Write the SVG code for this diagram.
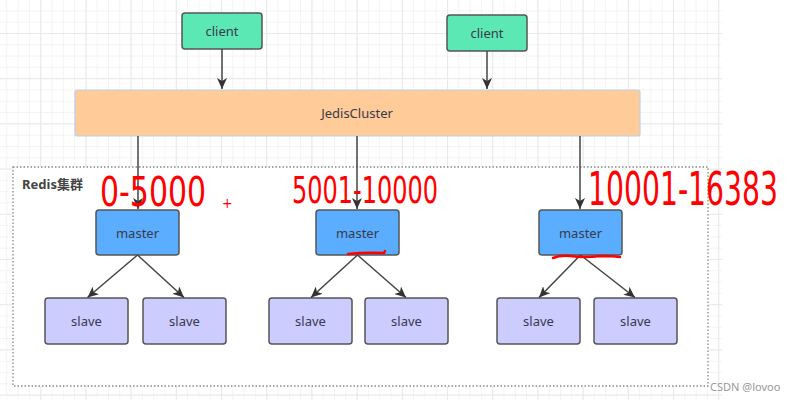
<svg xmlns="http://www.w3.org/2000/svg" width="791" height="400" viewBox="0 0 791 400">
<defs>
<pattern id="minor" patternUnits="userSpaceOnUse" x="40.2" y="33" width="11.3" height="11.3">
<path d="M0 0.5H11.3M0.5 0V11.3" fill="none" stroke="#f3f3f3" stroke-width="1"/>
</pattern>
<pattern id="major" patternUnits="userSpaceOnUse" x="40.2" y="33" width="45.2" height="45.2">
<path d="M0 0.5H45.2M0.5 0V45.2" fill="none" stroke="#e9e9e9" stroke-width="1.2"/>
</pattern>
<marker id="arr" markerUnits="userSpaceOnUse" markerWidth="12" markerHeight="10" refX="11" refY="5" orient="auto">
<path d="M0 0L11 5L0 10L3 5Z" fill="#333"/>
</marker>
</defs>
<style>
.node{stroke:#555;stroke-width:1.5}
.client{fill:#5ce8b5}
.master{fill:#5badff}
.slave{fill:#ccccff}
.lbl{font-family:"Noto Sans","Open Sans","Noto Sans CJK SC",sans-serif;font-size:13px;fill:#3a3a4a;text-anchor:middle;dominant-baseline:central}
.conn{stroke:#444;stroke-width:1.5;fill:none;marker-end:url(#arr)}
.hand{font-family:"DejaVu Sans Condensed","DejaVu Sans",sans-serif;font-weight:300;fill:#ff0000}
.ul{stroke:#ff0000;stroke-width:2.5;fill:none;stroke-linecap:round}
</style>
<rect width="791" height="400" fill="#ffffff"/>
<rect x="0" y="0" width="722" height="400" fill="url(#minor)"/>
<rect x="0" y="0" width="722" height="400" fill="url(#major)"/>

<g id="redis-cluster">
<rect x="13" y="167" width="695" height="219" fill="#ffffff" stroke="#888" stroke-width="1.3" stroke-dasharray="1.5 2"/>
<text x="22" y="184" font-family="'Noto Sans','Noto Sans CJK SC',sans-serif" font-size="13" font-weight="bold" fill="#444" dominant-baseline="central">Redis集群</text>
</g>

<g id="client1"><rect class="node client" x="182" y="13" width="80" height="36" rx="3"/><text class="lbl" x="222" y="31">client</text></g>
<g id="client2"><rect class="node client" x="447" y="15" width="80" height="36" rx="3"/><text class="lbl" x="487" y="33">client</text></g>

<g id="jediscluster"><rect x="75" y="90" width="565" height="46" rx="2" fill="#ffcc99" stroke="#b9cff0" stroke-width="1.2"/><text class="lbl" x="357" y="113" font-size="14">JedisCluster</text></g>

<g id="master1"><rect class="node master" x="96" y="210" width="83" height="45" rx="3"/><text class="lbl" x="137.5" y="232.5">master</text></g>
<g id="master2"><rect class="node master" x="316" y="210" width="83" height="45" rx="3"/><text class="lbl" x="357.5" y="232.5">master</text></g>
<g id="master3"><rect class="node master" x="539" y="210" width="83" height="45" rx="3"/><text class="lbl" x="580.5" y="232.5">master</text></g>

<g id="slave1"><rect class="node slave" x="45" y="298" width="83" height="46" rx="3"/><text class="lbl" x="86.5" y="321">slave</text></g>
<g id="slave2"><rect class="node slave" x="143" y="298" width="83" height="46" rx="3"/><text class="lbl" x="184.5" y="321">slave</text></g>
<g id="slave3"><rect class="node slave" x="269" y="298" width="83" height="46" rx="3"/><text class="lbl" x="310.5" y="321">slave</text></g>
<g id="slave4"><rect class="node slave" x="365" y="298" width="83" height="46" rx="3"/><text class="lbl" x="406.5" y="321">slave</text></g>
<g id="slave5"><rect class="node slave" x="497" y="298" width="83" height="46" rx="3"/><text class="lbl" x="538.5" y="321">slave</text></g>
<g id="slave6"><rect class="node slave" x="594" y="298" width="83" height="46" rx="3"/><text class="lbl" x="635.5" y="321">slave</text></g>

<g id="connectors">
<path class="conn" d="M222 49V89"/>
<path class="conn" d="M487 51V89"/>
<path class="conn" d="M138 136V209"/>
<path class="conn" d="M357 136V209"/>
<path class="conn" d="M580 136V209"/>
<path class="conn" d="M137.5 255L87.5 297.5"/>
<path class="conn" d="M137.5 255L184 297.5"/>
<path class="conn" d="M357.5 255L311 297.5"/>
<path class="conn" d="M357.5 255L406 297.5"/>
<path class="conn" d="M580.5 255L539 297.5"/>
<path class="conn" d="M580.5 255L635 297.5"/>
</g>

<g id="annotations">
<text class="hand" x="100" y="206" font-size="40" textLength="106" lengthAdjust="spacingAndGlyphs">0-5000</text>
<text class="hand" x="222" y="208" font-size="14">+</text>
<text class="hand" x="292" y="203" font-size="38" textLength="146" lengthAdjust="spacingAndGlyphs">5001-10000</text>
<text class="hand" x="588" y="205" font-size="46" textLength="190" lengthAdjust="spacingAndGlyphs">10001-16383</text>
<path class="ul" d="M348 254Q366 252 384 253L385 251"/>
<path class="ul" d="M553 258Q560 255 570 256Q585 258 600 256Q612 256 620 257"/>
</g>

<text x="710" y="386" font-family="'Noto Sans',sans-serif" font-size="11" fill="#999" dominant-baseline="central">CSDN @lovoo</text>
</svg>
